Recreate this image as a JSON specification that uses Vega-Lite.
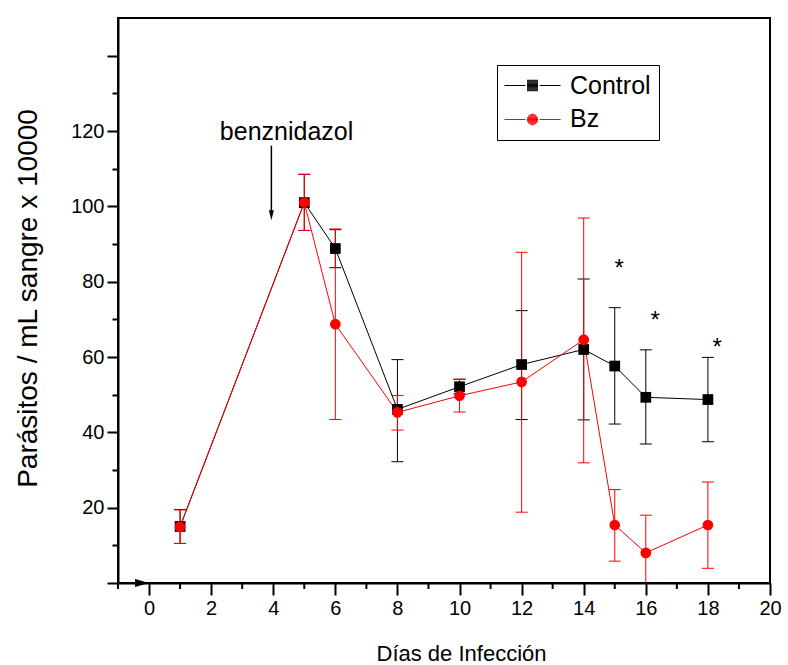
{
  "$schema": "https://vega.github.io/schema/vega-lite/v6.json",
  "width": 652,
  "height": 565,
  "autosize": {"type": "none"},
  "padding": {"left": 118, "top": 18, "right": 18, "bottom": 82},
  "background": "white",
  "config": {
    "font": "Liberation Sans",
    "view": {"stroke": "black", "strokeWidth": 2},
    "axis": {"grid": false, "domainColor": "black", "domainWidth": 2, "tickColor": "black", "tickWidth": 2, "labelColor": "black", "titleColor": "black", "labelFont": "Liberation Sans", "titleFont": "Liberation Sans", "titleFontWeight": "normal", "labelFontSize": 20, "labelOverlap": false, "labelBound": false, "labelFlush": false}
  },
  "resolve": {"scale": {"shape": "independent"}, "legend": {"shape": "independent"}},
  "datasets": {
    "series": [
      {"group": "Control", "day": 1, "mean": 15.0, "lo": 10.5, "hi": 19.5},
      {"group": "Control", "day": 5, "mean": 101.0, "lo": 93.6, "hi": 108.5},
      {"group": "Control", "day": 6, "mean": 88.8, "lo": 83.7, "hi": 93.8},
      {"group": "Control", "day": 8, "mean": 46.1, "lo": 32.2, "hi": 59.3},
      {"group": "Control", "day": 10, "mean": 52.1, "lo": 50.2, "hi": 54.1},
      {"group": "Control", "day": 12, "mean": 58.0, "lo": 43.4, "hi": 72.3},
      {"group": "Control", "day": 14, "mean": 62.0, "lo": 43.3, "hi": 80.7},
      {"group": "Control", "day": 15, "mean": 57.6, "lo": 42.2, "hi": 73.1},
      {"group": "Control", "day": 16, "mean": 49.3, "lo": 36.9, "hi": 61.9},
      {"group": "Control", "day": 18, "mean": 48.7, "lo": 37.5, "hi": 59.9},
      {"group": "Bz", "day": 1, "mean": 14.9, "lo": 10.5, "hi": 19.4},
      {"group": "Bz", "day": 5, "mean": 101.0, "lo": 93.6, "hi": 108.5},
      {"group": "Bz", "day": 6, "mean": 68.7, "lo": 43.4, "hi": 94.0},
      {"group": "Bz", "day": 8, "mean": 45.3, "lo": 40.6, "hi": 49.8},
      {"group": "Bz", "day": 10, "mean": 49.7, "lo": 45.4, "hi": 54.1},
      {"group": "Bz", "day": 12, "mean": 53.4, "lo": 18.8, "hi": 87.8},
      {"group": "Bz", "day": 14, "mean": 64.6, "lo": 31.9, "hi": 96.9},
      {"group": "Bz", "day": 15, "mean": 15.4, "lo": 5.8, "hi": 24.8},
      {"group": "Bz", "day": 16, "mean": 8.0, "lo": -2.0, "hi": 18.0},
      {"group": "Bz", "day": 18, "mean": 15.4, "lo": 3.9, "hi": 26.8}
    ],
    "minor": [{"day": -1}, {"day": 1}, {"day": 3}, {"day": 5}, {"day": 7}, {"day": 9}, {"day": 11}, {"day": 13}, {"day": 15}, {"day": 17}, {"day": 19}],
    "label": [{"day": 4.43, "mean": 117.7, "text": "benznidazol"}],
    "stars": [{"day": 15.14, "mean": 85.2, "text": "*"}, {"day": 16.3, "mean": 71.5, "text": "*"}, {"day": 18.3, "mean": 64.3, "text": "*"}],
    "arrow": [{"day": 3.94, "top": 116.1, "bottom": 98.4, "tip": 97.6}],
    "axisArrow": [{"day": -0.225, "mean": 0}]
  },
  "layer": [
    {
      "data": {"name": "series"},
      "transform": [{"filter": "datum.group === 'Control'"}],
      "mark": {"type": "rule", "color": "black", "strokeWidth": 1, "clip": true},
      "encoding": {
        "x": {"field": "day", "type": "quantitative", "scale": {"domain": [-1, 20], "nice": false, "zero": false},
          "axis": {"values": [0, 2, 4, 6, 8, 10, 12, 14, 16, 18, 20],
            "tickSize": 12, "labelPadding": 3, "labelFontSize": 20,
            "title": "Días de Infección", "titleFontSize": 22, "titleX": 343, "titleY": 70, "titleAlign": "center", "titleBaseline": "middle"}},
        "y": {"field": "lo", "type": "quantitative", "scale": {"domain": [0, 150], "nice": false, "zero": false},
          "axis": {"values": [0, 10, 20, 30, 40, 50, 60, 70, 80, 90, 100, 110, 120, 130, 140],
            "labelExpr": "datum.value >= 20 && datum.value <= 120 && datum.value % 20 === 0 ? datum.label : ''",
            "tickSize": {"condition": {"test": "datum.value % 20 === 0", "value": 11}, "value": 6},
            "labelPadding": 3, "labelFontSize": 20,
            "title": "Parásitos / mL sangre x 10000", "titleFontSize": 28, "titleAngle": -90, "titleX": -90, "titleY": 280, "titleAlign": "center", "titleBaseline": "middle"}},
        "y2": {"field": "hi"}
      }
    },
    {
      "data": {"name": "series"},
      "transform": [{"filter": "datum.group === 'Control'"}, {"fold": ["lo", "hi"], "as": ["end", "val"]}],
      "mark": {"type": "point", "shape": "M-1,0H1", "filled": false, "stroke": "black", "strokeWidth": 1, "size": 144, "opacity": 1, "clip": true},
      "encoding": {
        "x": {"field": "day", "type": "quantitative", "scale": {"domain": [-1, 20], "nice": false, "zero": false}},
        "y": {"field": "val", "type": "quantitative", "scale": {"domain": [0, 150], "nice": false, "zero": false}}
      }
    },
    {
      "data": {"name": "series"},
      "transform": [{"filter": "datum.group === 'Bz'"}],
      "mark": {"type": "rule", "color": "#ff0000", "strokeWidth": 1, "clip": true},
      "encoding": {
        "x": {"field": "day", "type": "quantitative", "scale": {"domain": [-1, 20], "nice": false, "zero": false}},
        "y": {"field": "lo", "type": "quantitative", "scale": {"domain": [0, 150], "nice": false, "zero": false}},
        "y2": {"field": "hi"}
      }
    },
    {
      "data": {"name": "series"},
      "transform": [{"filter": "datum.group === 'Bz'"}, {"fold": ["lo", "hi"], "as": ["end", "val"]}],
      "mark": {"type": "point", "shape": "M-1,0H1", "filled": false, "stroke": "#ff0000", "strokeWidth": 1, "size": 144, "opacity": 1, "clip": true},
      "encoding": {
        "x": {"field": "day", "type": "quantitative", "scale": {"domain": [-1, 20], "nice": false, "zero": false}},
        "y": {"field": "val", "type": "quantitative", "scale": {"domain": [0, 150], "nice": false, "zero": false}}
      }
    },
    {
      "data": {"name": "series"},
      "transform": [{"filter": "datum.group === 'Control'"}],
      "mark": {"type": "line", "color": "black", "strokeWidth": 1},
      "encoding": {
        "x": {"field": "day", "type": "quantitative", "scale": {"domain": [-1, 20], "nice": false, "zero": false}},
        "y": {"field": "mean", "type": "quantitative", "scale": {"domain": [0, 150], "nice": false, "zero": false}}
      }
    },
    {
      "data": {"name": "series"},
      "transform": [{"filter": "datum.group === 'Bz'"}],
      "mark": {"type": "line", "color": "#ff0000", "strokeWidth": 1},
      "encoding": {
        "x": {"field": "day", "type": "quantitative", "scale": {"domain": [-1, 20], "nice": false, "zero": false}},
        "y": {"field": "mean", "type": "quantitative", "scale": {"domain": [0, 150], "nice": false, "zero": false}}
      }
    },
    {
      "data": {"name": "series"},
      "mark": {"type": "point", "filled": true, "size": 115, "opacity": 1, "strokeWidth": 0},
      "encoding": {
        "x": {"field": "day", "type": "quantitative", "scale": {"domain": [-1, 20], "nice": false, "zero": false}},
        "y": {"field": "mean", "type": "quantitative", "scale": {"domain": [0, 150], "nice": false, "zero": false}},
        "color": {"field": "group", "type": "nominal", "scale": {"domain": ["Control", "Bz"], "range": ["black", "#ff0000"]}, "legend": null},
        "shape": {"field": "group", "type": "nominal", "scale": {"domain": ["Control", "Bz"], "range": ["square", "circle"]}, "legend": null}
      }
    },
    {
      "data": {"name": "series"},
      "transform": [{"filter": "datum.day < -5"}],
      "mark": {"type": "point", "filled": true, "size": 121, "strokeWidth": 1, "opacity": 1},
      "encoding": {
        "x": {"field": "day", "type": "quantitative", "scale": {"domain": [-1, 20], "nice": false, "zero": false}},
        "y": {"field": "mean", "type": "quantitative", "scale": {"domain": [0, 150], "nice": false, "zero": false}},
        "shape": {"field": "group", "type": "nominal", "scale": {"domain": ["Control", "Bz"], "range": ["square", "circle"]},
          "legend": {"orient": "none", "legendX": 379, "legendY": 47, "title": null, "strokeColor": "black", "padding": 8,
            "symbolSize": 121, "symbolStrokeWidth": 1, "symbolOpacity": 0, "symbolOffset": 15, "labelOffset": 25, "labelFontSize": 25, "labelFont": "Liberation Sans", "labelColor": "black", "rowPadding": 7}}
      }
    },
    {
      "data": {"name": "series"},
      "transform": [{"filter": "datum.day < -5"}],
      "mark": {"type": "point", "filled": false, "stroke": "black", "color": "black", "size": 121, "strokeWidth": 1, "opacity": 1},
      "encoding": {
        "x": {"field": "day", "type": "quantitative", "scale": {"domain": [-1, 20], "nice": false, "zero": false}},
        "y": {"field": "mean", "type": "quantitative", "scale": {"domain": [0, 150], "nice": false, "zero": false}},
        "shape": {"field": "group", "type": "nominal", "scale": {"domain": ["Control"], "range": [
          "M-5.1,0H-1.3M1.3,0H5.1M-1,-0.95H1M-1,-0.79H1M-1,-0.63H1M-1,-0.47H1M-1,-0.32H1M-1,-0.16H1M-1,0H1M-1,0.16H1M-1,0.32H1M-1,0.47H1M-1,0.63H1M-1,0.79H1M-1,0.95H1"]},
          "legend": {"orient": "none", "legendX": 379, "legendY": 47, "title": null, "padding": 8,
            "symbolSize": 121, "symbolStrokeWidth": 1, "symbolStrokeColor": "black", "symbolOpacity": 1, "symbolOffset": 15, "labelOffset": 25, "labelFontSize": 25, "labelFont": "Liberation Sans", "labelColor": "black", "labelOpacity": 0, "rowPadding": 7}}
      }
    },
    {
      "data": {"name": "series"},
      "transform": [{"filter": "datum.day < -5"}],
      "mark": {"type": "point", "filled": false, "stroke": "#ff0000", "color": "#ff0000", "size": 121, "strokeWidth": 1, "opacity": 1},
      "encoding": {
        "x": {"field": "day", "type": "quantitative", "scale": {"domain": [-1, 20], "nice": false, "zero": false}},
        "y": {"field": "mean", "type": "quantitative", "scale": {"domain": [0, 150], "nice": false, "zero": false}},
        "shape": {"field": "group", "type": "nominal", "scale": {"domain": ["Bz"], "range": [
          "M-5.1,0H-1.3M1.3,0H5.1M-0.31,-0.95H0.31M-0.61,-0.79H0.61M-0.78,-0.63H0.78M-0.88,-0.47H0.88M-0.95,-0.32H0.95M-0.99,-0.16H0.99M-1,0H1M-0.99,0.16H0.99M-0.95,0.32H0.95M-0.88,0.47H0.88M-0.78,0.63H0.78M-0.61,0.79H0.61M-0.31,0.95H0.31"]},
          "legend": {"orient": "none", "legendX": 379, "legendY": 81, "title": null, "padding": 8,
            "symbolSize": 121, "symbolStrokeWidth": 1, "symbolStrokeColor": "#ff0000", "symbolOpacity": 1, "symbolOffset": 15, "labelOffset": 25, "labelFontSize": 25, "labelFont": "Liberation Sans", "labelColor": "black", "labelOpacity": 0, "rowPadding": 7}}
      }
    },
    {
      "data": {"name": "minor"},
      "mark": {"type": "point", "shape": "M0,-1V1", "filled": false, "stroke": "black", "strokeWidth": 2, "size": 36, "opacity": 1, "yOffset": 3},
      "encoding": {
        "x": {"field": "day", "type": "quantitative", "scale": {"domain": [-1, 20], "nice": false, "zero": false}},
        "y": {"datum": 0, "type": "quantitative", "scale": {"domain": [0, 150], "nice": false, "zero": false}}
      }
    },
    {
      "data": {"name": "arrow"},
      "mark": {"type": "rule", "color": "black", "strokeWidth": 1.5},
      "encoding": {
        "x": {"field": "day", "type": "quantitative", "scale": {"domain": [-1, 20], "nice": false, "zero": false}},
        "y": {"field": "top", "type": "quantitative", "scale": {"domain": [0, 150], "nice": false, "zero": false}},
        "y2": {"field": "bottom"}
      }
    },
    {
      "data": {"name": "arrow"},
      "mark": {"type": "point", "shape": "M-0.5,-1L0.5,-1L0,1Z", "filled": true, "color": "black", "size": 100, "opacity": 1},
      "encoding": {
        "x": {"field": "day", "type": "quantitative", "scale": {"domain": [-1, 20], "nice": false, "zero": false}},
        "y": {"field": "tip", "type": "quantitative", "scale": {"domain": [0, 150], "nice": false, "zero": false}}
      }
    },
    {
      "data": {"name": "label"},
      "mark": {"type": "text", "font": "Liberation Sans", "fontSize": 25, "color": "black", "align": "center", "baseline": "alphabetic"},
      "encoding": {
        "x": {"field": "day", "type": "quantitative", "scale": {"domain": [-1, 20], "nice": false, "zero": false}},
        "y": {"field": "mean", "type": "quantitative", "scale": {"domain": [0, 150], "nice": false, "zero": false}},
        "text": {"field": "text"}
      }
    },
    {
      "data": {"name": "stars"},
      "mark": {"type": "text", "font": "Liberation Sans", "fontSize": 24, "color": "black", "align": "center", "baseline": "alphabetic", "dy": 14},
      "encoding": {
        "x": {"field": "day", "type": "quantitative", "scale": {"domain": [-1, 20], "nice": false, "zero": false}},
        "y": {"field": "mean", "type": "quantitative", "scale": {"domain": [0, 150], "nice": false, "zero": false}},
        "text": {"field": "text"}
      }
    },
    {
      "data": {"name": "axisArrow"},
      "mark": {"type": "point", "shape": "M-1,-0.57L1,0L-1,0.57Z", "filled": true, "color": "black", "size": 196, "opacity": 1},
      "encoding": {
        "x": {"field": "day", "type": "quantitative", "scale": {"domain": [-1, 20], "nice": false, "zero": false}},
        "y": {"field": "mean", "type": "quantitative", "scale": {"domain": [0, 150], "nice": false, "zero": false}}
      }
    }
  ]
}
